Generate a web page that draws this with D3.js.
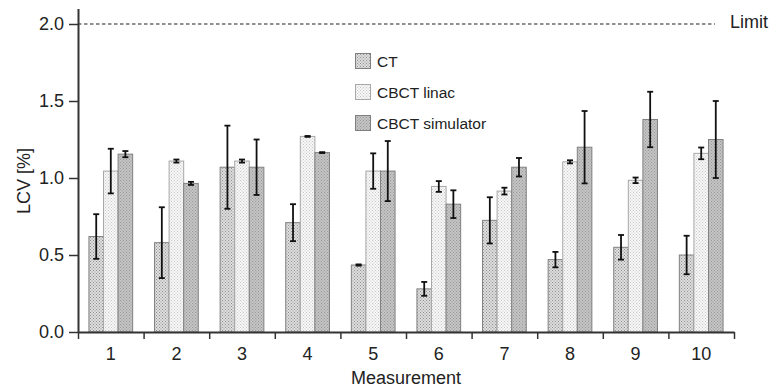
<!DOCTYPE html>
<html>
<head>
<meta charset="utf-8">
<script src="https://cdn.jsdelivr.net/npm/d3@7"></script>
<style>
  body { margin: 0; background: #fff; }
  text { font-family: Arial, "Liberation Sans", sans-serif; fill: #222; }
</style>
</head>
<body>
<script>
'use strict';

// measurement numbers on the x axis
let measurements = ["1", "2", "3", "4", "5", "6", "7", "8", "9", "10"];
let seriesNames = ["CT", "CBCT linac", "CBCT simulator"];

// mean LCV [%] per series
let ctValues    = [0.62, 0.58, 1.07, 0.71, 0.435, 0.28, 0.725, 0.47, 0.55, 0.50];
let linacValues = [1.045, 1.11, 1.11, 1.27, 1.045, 0.945, 0.915, 1.105, 0.985, 1.16];
let simValues   = [1.155, 0.965, 1.07, 1.165, 1.045, 0.83, 1.07, 1.2, 1.38, 1.25];

// error (half length of the error bar)
let ctErrors    = [0.145, 0.23, 0.27, 0.12, 0.004, 0.045, 0.15, 0.05, 0.08, 0.125];
let linacErrors = [0.145, 0.01, 0.01, 0.003, 0.115, 0.035, 0.022, 0.01, 0.018, 0.038];
let simErrors   = [0.02, 0.01, 0.18, 0.003, 0.195, 0.09, 0.06, 0.235, 0.18, 0.25];

let yTicks = [0, 0.5, 1.0, 1.5, 2.0];
let limitValue = 2.0;

(function() {

  let svg = d3.select('body').append('svg')
    .attr('width', 773)
    .attr('height', 391);

  // dotted fills like the printed hatch patterns
  let defs = svg.append('defs');
  function makePattern(id, bg, dot) {
    let p = defs.append('pattern')
      .attr('id', id)
      .attr('width', 3)
      .attr('height', 3)
      .attr('patternUnits', 'userSpaceOnUse');
    p.append('rect').attr('width', 3).attr('height', 3).attr('fill', bg);
    p.append('rect').attr('x', 0).attr('y', 0).attr('width', 1).attr('height', 1).attr('fill', dot);
    p.append('rect').attr('x', 1.5).attr('y', 1.5).attr('width', 1).attr('height', 1).attr('fill', dot);
  }
  makePattern('patCT', '#dedede', '#909090');
  makePattern('patLinac', '#f7f7f7', '#c8c8c8');
  makePattern('patSim', '#c4c4c4', '#989898');

  let fills = ['url(#patCT)', 'url(#patLinac)', 'url(#patSim)'];
  let strokes = ['#808080', '#a8a8a8', '#808080'];

  let plotLeft = 78, plotRight = 734, plotTop = 8.6, plotBottom = 332;

  let x = d3.scaleBand()
    .domain(measurements)
    .range([plotLeft, plotRight])
    .padding(0);

  let xSub = d3.scaleBand()
    .domain(seriesNames)
    .range([0, x.bandwidth()])
    .paddingInner(0)
    .paddingOuter(0.75);

  let xEdge = d3.scaleLinear()
    .domain([0, measurements.length])
    .range([plotLeft, plotRight]);

  let y = d3.scaleLinear()
    .domain([0, 2.1])
    .range([plotBottom, plotTop]);

  // build rows from the arrays
  let series = [
    { name: seriesNames[0], values: ctValues, errors: ctErrors },
    { name: seriesNames[1], values: linacValues, errors: linacErrors },
    { name: seriesNames[2], values: simValues, errors: simErrors }
  ];
  let rows = [];
  series.forEach((s, si) => {
    measurements.forEach((m, i) => {
      rows.push({ m: m, s: s.name, si: si, v: s.values[i], e: s.errors[i] });
    });
  });

  // limit line
  svg.append('line')
    .attr('x1', plotLeft)
    .attr('x2', 715)
    .attr('y1', y(limitValue))
    .attr('y2', y(limitValue))
    .attr('stroke', '#222')
    .attr('stroke-width', 1.2)
    .attr('stroke-dasharray', '3.5,2.5');

  svg.append('text')
    .attr('x', 730)
    .attr('y', y(limitValue) + 4)
    .style('font-size', '18px')
    .text('Limit');

  // bars
  svg.selectAll('.bar')
    .data(rows)
    .enter()
    .append('rect')
      .attr('class', 'bar')
      .attr('x', d => x(d.m) + xSub(d.s))
      .attr('y', d => y(d.v))
      .attr('width', xSub.bandwidth())
      .attr('height', d => y(0) - y(d.v))
      .attr('fill', d => fills[d.si])
      .attr('stroke', d => strokes[d.si])
      .attr('stroke-width', 1);

  // error bars
  let err = svg.selectAll('.err')
    .data(rows)
    .enter()
    .append('g')
      .attr('class', 'err')
      .attr('stroke', '#111')
      .attr('stroke-width', 1.8);

  let cx = d => x(d.m) + xSub(d.s) + xSub.bandwidth() / 2;

  err.append('line')
    .attr('x1', cx)
    .attr('x2', cx)
    .attr('y1', d => y(d.v + d.e))
    .attr('y2', d => y(d.v - d.e));

  [1, -1].forEach(sign => {
    err.append('line')
      .attr('x1', d => cx(d) - 3)
      .attr('x2', d => cx(d) + 3)
      .attr('y1', d => y(d.v + sign * d.e))
      .attr('y2', d => y(d.v + sign * d.e));
  });

  // y axis
  let yAxis = d3.axisLeft(y)
    .tickValues(yTicks)
    .tickFormat(d3.format('.1f'))
    .tickSize(9)
    .tickPadding(5)
    .tickSizeOuter(0);
  let gy = svg.append('g')
    .attr('transform', 'translate(' + plotLeft + ',0)')
    .call(yAxis);
  gy.select('.domain').attr('stroke', '#333').attr('stroke-width', 2);
  gy.selectAll('.tick line').attr('stroke', '#333').attr('stroke-width', 1.5);
  gy.selectAll('.tick text')
    .style('font-size', '18px')
    .attr('fill', '#222');

  // x axis: ticks at category edges
  let xAxisEdges = d3.axisBottom(xEdge)
    .tickValues(d3.range(0, measurements.length + 1))
    .tickFormat('')
    .tickSize(7)
    .tickSizeOuter(0);
  let gx = svg.append('g')
    .attr('transform', 'translate(0,' + plotBottom + ')')
    .call(xAxisEdges);
  gx.select('.domain').attr('stroke', '#333').attr('stroke-width', 2);
  gx.selectAll('.tick line').attr('stroke', '#333').attr('stroke-width', 1.5);

  // x labels in the category centres
  let xAxisLabels = d3.axisBottom(x)
    .tickSize(0)
    .tickPadding(15);
  let gxl = svg.append('g')
    .attr('transform', 'translate(0,' + plotBottom + ')')
    .call(xAxisLabels);
  gxl.select('.domain').remove();
  gxl.selectAll('.tick text')
    .style('font-size', '18px')
    .attr('fill', '#222');

  // axis titles
  svg.append('text')
    .attr('x', (plotLeft + plotRight) / 2)
    .attr('y', 384)
    .attr('text-anchor', 'middle')
    .style('font-size', '18px')
    .text('Measurement');

  svg.append('text')
    .attr('transform', 'translate(30, 181)rotate(-90)')
    .attr('text-anchor', 'middle')
    .style('font-size', '18px')
    .text('LCV [%]');

  // legend
  let legend = svg.append('g').attr('class', 'legend');
  seriesNames.forEach((name, i) => {
    legend.append('rect')
      .attr('x', 355.5)
      .attr('y', 53.5 + i * 31)
      .attr('width', 15)
      .attr('height', 15)
      .attr('fill', fills[i])
      .attr('stroke', strokes[i]);
    legend.append('text')
      .attr('x', 377)
      .attr('y', 67 + i * 31)
      .style('font-size', '15.5px')
      .text(name);
  });

})();
</script>
</body>
</html>
